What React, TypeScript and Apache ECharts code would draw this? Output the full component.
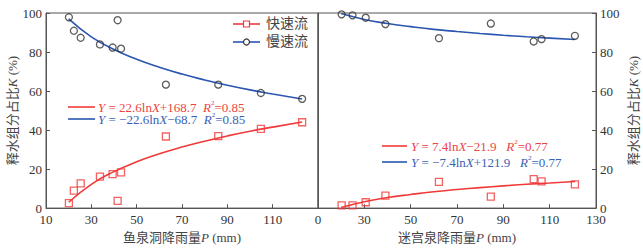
import React, { useEffect, useRef } from "react";
import * as echarts from "echarts";

// Left panel: 鱼泉洞
const leftX = [20.1, 22.3, 25.3, 33.8, 39.4, 41.6, 43.1, 62.9, 86.0, 104.8, 123.0];
const leftFast = [2.5, 9.0, 12.7, 16.1, 17.4, 3.7, 18.3, 36.7, 36.9, 40.6, 44.0];
const leftSlow = [97.8, 90.9, 87.3, 83.9, 82.3, 96.3, 81.7, 63.3, 63.3, 59.0, 56.0];
const leftFitX = [20, 30, 40, 50, 60, 70, 80, 90, 100, 110, 123];
const leftFitFast = [3.0, 12.2, 18.7, 23.7, 27.8, 31.3, 34.3, 37.0, 39.4, 41.5, 44.1];
const leftFitSlow = [97.0, 87.8, 81.3, 76.3, 72.2, 68.7, 65.7, 63.0, 60.6, 58.5, 55.9];

// Right panel: 迷宫泉
const rightX = [20.2, 24.9, 30.6, 39.1, 62.2, 84.6, 103.1, 106.5, 120.9];
const rightFast = [1.4, 1.4, 3.0, 6.4, 13.4, 5.9, 14.9, 13.7, 12.2];
const rightSlow = [99.3, 98.8, 97.6, 94.3, 87.1, 94.6, 85.4, 86.6, 88.3];
const rightFitX = [20, 30, 40, 50, 60, 70, 80, 90, 100, 110, 121];
const rightFitFast = [0.3, 3.3, 5.4, 7.0, 8.4, 9.5, 10.5, 11.4, 12.2, 12.9, 13.6];
const rightFitSlow = [99.7, 96.7, 94.6, 93.0, 91.6, 90.5, 89.5, 88.6, 87.8, 87.1, 86.4];

const seriesNames = ["快速流", "慢速流"];
const xMin = 10;
const xMax = 130;
const xStep = 20;
const yMin = 0;
const yMax = 100;
const yStep = 20;

const RED = "#f03a3a";
const BLUE = "#2a55b0";
const DARK = "#333";
const RED_TXT = "#ea4444";
const BLUE_TXT = "#3b5fb5";
const AXIS = "#555";
const SERIF = "'Liberation Serif', 'Times New Roman', serif";
const CJK = "'Liberation Serif', 'Noto Sans CJK SC', serif";

const zip = (xs: number[], ys: number[]) => xs.map((x, i) => [x, ys[i]]);

function eqText(x: number, y: number, parts: string, color: string) {
  return {
    type: "text",
    left: x,
    top: y - 8,
    style: {
      text: parts,
      fill: color,
      font: `13px ${SERIF}`,
      rich: {
        n: { fill: color, fontSize: 13, fontFamily: SERIF },
        i: { fill: color, fontSize: 13, fontFamily: SERIF, fontStyle: "italic" },
        s: { fill: color, fontSize: 7, fontFamily: SERIF, verticalAlign: "top", lineHeight: 16 },
      },
    },
  };
}

export default function App() {
  const ref = useRef<HTMLDivElement>(null);
  useEffect(() => {
    if (!ref.current) return;
    const chart = echarts.init(ref.current, null, { renderer: "svg" });

    const nameStyle = {
      color: "#444",
      fontSize: 13,
      fontFamily: CJK,
      rich: {
        a: { color: "#444", fontSize: 13, fontFamily: CJK },
        i: { color: "#444", fontSize: 13, fontFamily: SERIF, fontStyle: "italic" },
      },
    };

    const xAxisBase = (gridIndex: number, name: string, fmt: (v: number) => string) => ({
      type: "value",
      gridIndex,
      min: xMin,
      max: xMax,
      interval: xStep,
      name,
      nameLocation: "middle",
      nameGap: 22,
      nameTextStyle: nameStyle,
      axisLine: { show: true, lineStyle: { color: AXIS, width: 1 } },
      axisTick: { show: true, inside: true, length: 4, lineStyle: { color: AXIS } },
      axisLabel: { color: "#333", fontSize: 13, fontFamily: SERIF, margin: 5, formatter: fmt },
      splitLine: { show: false },
    });

    const yAxisBase = (gridIndex: number, position: string, showLabels: boolean) => ({
      type: "value",
      gridIndex,
      position,
      min: yMin,
      max: yMax,
      interval: yStep,
      name: showLabels ? "{a|释水组分占比}{i|K}{a| (%)}" : "",
      nameLocation: "middle",
      nameRotate: 90,
      nameGap: position === "left" ? 27 : 31,
      nameTextStyle: nameStyle,
      axisLine: { show: true, lineStyle: { color: AXIS, width: 1 } },
      axisTick: { show: showLabels, inside: true, length: 4, lineStyle: { color: AXIS } },
      axisLabel: { show: showLabels, color: "#333", fontSize: 13, fontFamily: SERIF, margin: 4 },
      splitLine: { show: false },
    });

    const pointSeries = (name: string, idx: number, data: number[][], symbol: string, color: string) => ({
      name,
      type: "scatter",
      xAxisIndex: idx,
      yAxisIndex: idx,
      data,
      symbol,
      symbolSize: 7,
      itemStyle: { color: "rgba(255,255,255,0)", borderColor: color, borderWidth: 1.3 },
      z: 5,
    });

    const fitSeries = (idx: number, data: number[][], color: string) => ({
      type: "line",
      xAxisIndex: idx,
      yAxisIndex: idx,
      data,
      smooth: true,
      showSymbol: false,
      symbol: "none",
      lineStyle: { color, width: 1.6 },
      z: 3,
      silent: true,
    });

    const legendItem = (y: number, label: string, lineColor: string, marker: any) => [
      { type: "line", shape: { x1: 233, y1: y, x2: 260, y2: y }, style: { stroke: lineColor, lineWidth: 1.6 }, z: 10 },
      { ...marker, z: 11 },
      {
        type: "text",
        left: 266,
        top: y - 8,
        style: { text: label, fill: "#444", font: `14px ${CJK}` },
        z: 11,
      },
    ];

    const option: any = {
      animation: false,
      backgroundColor: "#fff",
      grid: [
        { left: 46, right: 325, top: 13, bottom: 39, show: true, borderColor: AXIS, borderWidth: 1 },
        { left: 318, right: 47, top: 13, bottom: 39, show: true, borderColor: AXIS, borderWidth: 1 },
      ],
      xAxis: [
        xAxisBase(0, "{a|鱼泉洞降雨量}{i|P}{a| (mm)}", (v: number) => (v === xMax ? "" : String(v))),
        xAxisBase(1, "{a|迷宫泉降雨量}{i|P}{a| (mm)}", (v: number) => (v === xMin ? "0" : String(v))),
      ],
      yAxis: [yAxisBase(0, "left", true), yAxisBase(1, "left", false), yAxisBase(1, "right", true)],
      series: [
        fitSeries(0, zip(leftFitX, leftFitFast), RED),
        fitSeries(0, zip(leftFitX, leftFitSlow), BLUE),
        fitSeries(1, zip(rightFitX, rightFitFast), RED),
        fitSeries(1, zip(rightFitX, rightFitSlow), BLUE),
        pointSeries(seriesNames[0], 0, zip(leftX, leftFast), "rect", RED),
        pointSeries(seriesNames[1], 0, zip(leftX, leftSlow), "circle", DARK),
        pointSeries(seriesNames[0], 1, zip(rightX, rightFast), "rect", RED),
        pointSeries(seriesNames[1], 1, zip(rightX, rightSlow), "circle", DARK),
      ],
      graphic: [
        ...legendItem(24, seriesNames[0], RED, {
          type: "rect",
          shape: { x: 243.5, y: 21, width: 6, height: 6 },
          style: { fill: "#fff", stroke: RED, lineWidth: 1.2 },
        }),
        ...legendItem(42, seriesNames[1], BLUE, {
          type: "circle",
          shape: { cx: 246.5, cy: 42, r: 3 },
          style: { fill: "#fff", stroke: DARK, lineWidth: 1.2 },
        }),
        { type: "line", shape: { x1: 68, y1: 107, x2: 95, y2: 107 }, style: { stroke: RED, lineWidth: 1.6 } },
        eqText(98, 107, "{i|Y}{n| = 22.6ln}{i|X}{n|+168.7  }{i|R}{s|2}{n|=0.85}", RED_TXT),
        { type: "line", shape: { x1: 68, y1: 119, x2: 95, y2: 119 }, style: { stroke: BLUE, lineWidth: 1.6 } },
        eqText(98, 119, "{i|Y}{n| = −22.6ln}{i|X}{n|−68.7  }{i|R}{s|2}{n|=0.85}", BLUE_TXT),
        { type: "line", shape: { x1: 382, y1: 146, x2: 407, y2: 146 }, style: { stroke: RED, lineWidth: 1.6 } },
        eqText(411, 146, "{i|Y}{n| = 7.4ln}{i|X}{n|−21.9   }{i|R}{s|2}{n|=0.77}", RED_TXT),
        { type: "line", shape: { x1: 382, y1: 162, x2: 407, y2: 162 }, style: { stroke: BLUE, lineWidth: 1.6 } },
        eqText(411, 162, "{i|Y}{n| = −7.4ln}{i|X}{n|+121.9   }{i|R}{s|2}{n|=0.77}", BLUE_TXT),
      ],
    };
    chart.setOption(option);
    return () => chart.dispose();
  }, []);
  return (
    <div ref={ref} style={{ position: "fixed", left: 0, top: 0, width: 643, height: 249, background: "#fff" }} />
  );
}
